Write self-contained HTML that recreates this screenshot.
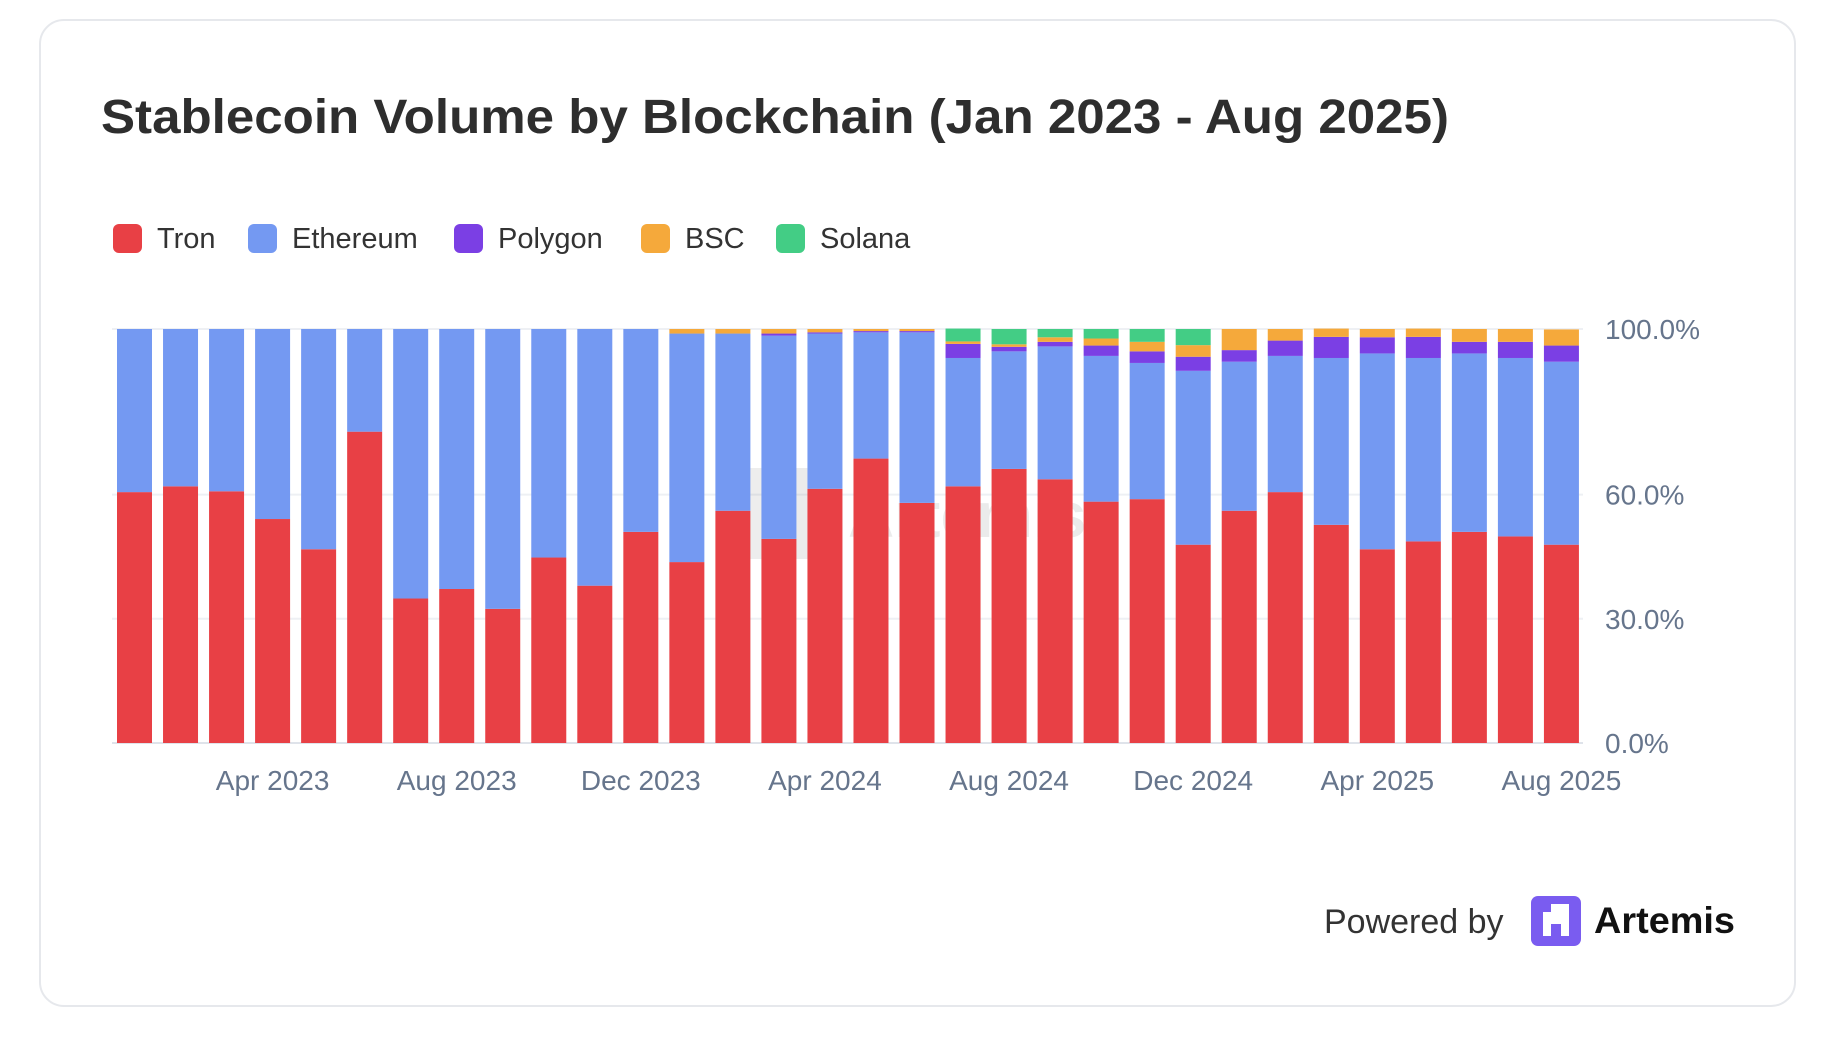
<!DOCTYPE html>
<html><head><meta charset="utf-8"><style>
html,body{margin:0;padding:0;background:#fff;}
body{width:1828px;height:1034px;overflow:hidden;font-family:"Liberation Sans",sans-serif;}
</style></head><body>
<svg id="chart" width="1828" height="1034" xmlns="http://www.w3.org/2000/svg">
<rect x="40" y="20" width="1755" height="986" rx="24" fill="#fff" stroke="#e6e8ec" stroke-width="2"/>
<text x="101" y="133" font-size="48" font-weight="bold" fill="#2e2e2e" textLength="1348" lengthAdjust="spacingAndGlyphs">Stablecoin Volume by Blockchain (Jan 2023 - Aug 2025)</text>
<g id="legend"></g>
<g id="grid"></g>
<g id="watermark" opacity="0.09">
<rect x="731" y="468" width="91" height="91" rx="8" fill="#333"/>
<text x="848" y="537" font-size="64" font-weight="bold" fill="#333">Artemis</text>
</g>
<g id="bars"></g>
<g id="yaxis"></g>
<g id="xaxis"></g>
<g>
<text x="1324" y="933" font-size="34" fill="#333">Powered by</text>
<rect x="1531" y="896" width="50" height="50" rx="7" fill="#7a5cf0"/>
<path d="M1543 936 V912 H1551 V904 H1569 V936 H1561 V924 H1551 V936 Z" fill="#fff"/>
<text x="1594" y="933" font-size="37" font-weight="bold" fill="#111" textLength="141" lengthAdjust="spacingAndGlyphs">Artemis</text>
</g>
</svg>
<script>
const months=["Jan 2023","Feb 2023","Mar 2023","Apr 2023","May 2023","Jun 2023","Jul 2023","Aug 2023","Sep 2023","Oct 2023","Nov 2023","Dec 2023","Jan 2024","Feb 2024","Mar 2024","Apr 2024","May 2024","Jun 2024","Jul 2024","Aug 2024","Sep 2024","Oct 2024","Nov 2024","Dec 2024","Jan 2025","Feb 2025","Mar 2025","Apr 2025","May 2025","Jun 2025","Jul 2025","Aug 2025"];
const tron=[60.6,62.0,60.8,54.1,46.8,75.2,34.9,37.2,32.4,44.8,38.0,51.0,43.7,56.1,49.3,61.4,68.7,58.0,62.0,66.2,63.7,58.3,58.9,47.9,56.1,60.6,52.7,46.8,48.7,51.0,49.9,47.9];
const ethereum=[39.4,38.0,39.2,45.9,53.2,24.8,65.1,62.8,67.6,55.2,62.0,49.0,55.2,42.8,49.1,37.5,30.5,41.2,31.0,28.4,32.1,35.2,32.9,42.0,36.0,32.9,40.3,47.3,44.3,43.1,43.1,44.2];
const polygon=[0,0,0,0,0,0,0,0,0,0,0,0,0,0,0.5,0.3,0.3,0.3,3.4,1.1,1.1,2.5,2.8,3.4,2.8,3.7,5.1,3.9,5.1,2.8,3.9,3.9];
const bsc=[0,0,0,0,0,0,0,0,0,0,0,0,1.1,1.1,1.1,0.8,0.5,0.5,0.6,0.6,1.1,1.7,2.3,2.8,5.1,2.8,2.0,2.0,2.0,3.1,3.1,3.9];
const solana=[0,0,0,0,0,0,0,0,0,0,0,0,0,0,0,0,0,0,3.1,3.7,2.0,2.3,3.1,3.9,0,0,0,0,0,0,0,0];
const yTicks=[0,30,60,100];
const xTickLabels=["Apr 2023","Aug 2023","Dec 2023","Apr 2024","Aug 2024","Dec 2024","Apr 2025","Aug 2025"];
const seriesNames=["Tron","Ethereum","Polygon","BSC","Solana"];
const colors=["#e84045","#7499f2","#7b3fe4","#f5a93b","#43cd85"];
const NS="http://www.w3.org/2000/svg";
const X0=117,PITCH=46.03,BW=35,Y0=743,Y100=329;
function xPos(i){return X0+i*PITCH;}
function yPos(v){return Y0-(v/100)*(Y0-Y100);}
function mk(tag,attrs,parent){const e=document.createElementNS(NS,tag);for(const k in attrs)e.setAttribute(k,attrs[k]);parent.appendChild(e);return e;}
const grid=document.getElementById('grid');
yTicks.forEach(t=>{const l=mk('line',{x1:112,x2:1583,y1:yPos(t),y2:yPos(t),stroke:t===0?'#dfe3ea':'#eef0f4','stroke-width':2},grid);

});
const ya=document.getElementById('yaxis');
yTicks.forEach(t=>{const tx=mk('text',{x:1605,y:yPos(t)+10,'font-size':28,fill:'#66758c'},ya);tx.textContent=t.toFixed(1)+'%';

});
const bars=document.getElementById('bars');
const series=[tron,ethereum,polygon,bsc,solana];
months.forEach((m,i)=>{let acc=0;
series.forEach((s,k)=>{const v=s[i];if(v<=0)return;
const r=mk('rect',{x:xPos(i),y:yPos(acc+v),width:BW,height:yPos(acc)-yPos(acc+v),fill:colors[k]},bars);


acc+=v;});});
const xa=document.getElementById('xaxis');
xTickLabels.forEach(lbl=>{const i=months.indexOf(lbl);
const tx=mk('text',{x:xPos(i)+BW/2,y:790,'font-size':28,fill:'#66758c','text-anchor':'middle'},xa);tx.textContent=lbl;

});
const lg=document.getElementById('legend');
const lx=[113,248,454,641,776];
seriesNames.forEach((n,k)=>{
const g=mk('g',{},lg);


mk('rect',{x:lx[k],y:224,width:29,height:29,rx:6,fill:colors[k]},g);
const t=mk('text',{x:lx[k]+44,y:248,'font-size':29,fill:'#333'},g);t.textContent=n;});
</script>
</body></html>
